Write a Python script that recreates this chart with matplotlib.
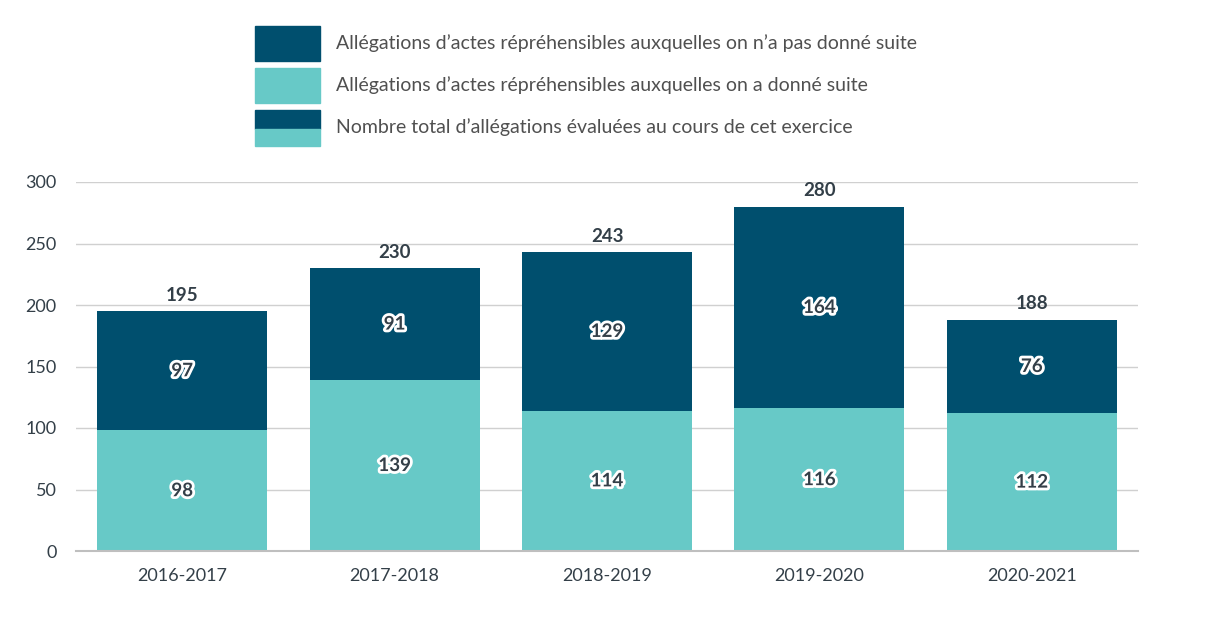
import matplotlib
matplotlib.use("Agg")
import matplotlib.pyplot as plt
import matplotlib.patheffects as pe
from matplotlib.patches import Rectangle

years = ["2016-2017", "2017-2018", "2018-2019", "2019-2020", "2020-2021"]
acted = [98, 139, 114, 116, 112]
not_acted = [97, 91, 129, 164, 76]
totals = [195, 230, 243, 280, 188]
legend_labels = [
    "Allégations d’actes répréhensibles auxquelles on n’a pas donné suite",
    "Allégations d’actes répréhensibles auxquelles on a donné suite",
    "Nombre total d’allégations évaluées au cours de cet exercice",
]

DARK = "#004F6E"
LIGHT = "#67C9C7"
TXT = "#333F48"
plt.rcParams['font.family'] = ['Lato', 'DejaVu Sans']

fig = plt.figure(figsize=(12.24, 6.24), dpi=100)
ax = fig.add_axes([76/1224, 1-551/624, (1138-76)/1224, (551-182)/624])
x = range(len(years))
ax.bar(x, acted, width=0.8, color=LIGHT, zorder=2)
ax.bar(x, not_acted, bottom=acted, width=0.8, color=DARK, zorder=2)
ax.set_xlim(-0.5, 4.5)
ax.set_ylim(0, 300)
ax.set_yticks(range(0, 301, 50))
ax.set_xticks(list(x))
ax.set_xticklabels(years)
ax.grid(axis='y', color='#D0D0D0', linewidth=1, zorder=0)
for s in ['left', 'right', 'top']:
    ax.spines[s].set_visible(False)
ax.spines['bottom'].set_color('#BFBFBF')
ax.spines['bottom'].set_linewidth(1.5)
ax.tick_params(axis='both', length=0, labelsize=13, colors=TXT, pad=12)
ax.tick_params(axis='y', pad=14)

stroke = [pe.withStroke(linewidth=4, foreground='white')]
for i in x:
    ax.text(i, acted[i]/2, str(acted[i]), ha='center', va='center', fontsize=13.5,
            fontweight='bold', color=TXT, path_effects=stroke, zorder=3)
    ax.text(i, acted[i] + not_acted[i]/2, str(not_acted[i]), ha='center', va='center',
            fontsize=13.5, fontweight='bold', color=TXT, path_effects=stroke, zorder=3)
    ax.text(i, totals[i] + 6, str(totals[i]), ha='center', va='bottom', fontsize=13.5,
            fontweight='bold', color=TXT, zorder=3)

# Legend (manual)
W, H = 1224, 624
def fr(px, py, w, h):
    return (px/W, 1-(py+h)/H, w/W, h/H)
boxes = [(255, 26, 65, 35), (255, 68, 65, 35), (255, 110, 65, 35)]
r = fr(*boxes[0]); fig.patches.append(Rectangle(r[:2], r[2], r[3], color=DARK, transform=fig.transFigure))
r = fr(*boxes[1]); fig.patches.append(Rectangle(r[:2], r[2], r[3], color=LIGHT, transform=fig.transFigure))
r = fr(255, 110, 65, 19); fig.patches.append(Rectangle(r[:2], r[2], r[3], color=DARK, transform=fig.transFigure))
r = fr(255, 129, 65, 17); fig.patches.append(Rectangle(r[:2], r[2], r[3], color=LIGHT, transform=fig.transFigure))
for (bx, by, bw, bh), lab in zip(boxes, legend_labels):
    fig.text(336/W, 1-(by+bh/2)/H, lab, ha='left', va='center', fontsize=14, color='#505050')

fig.savefig("out.png", dpi=100)
